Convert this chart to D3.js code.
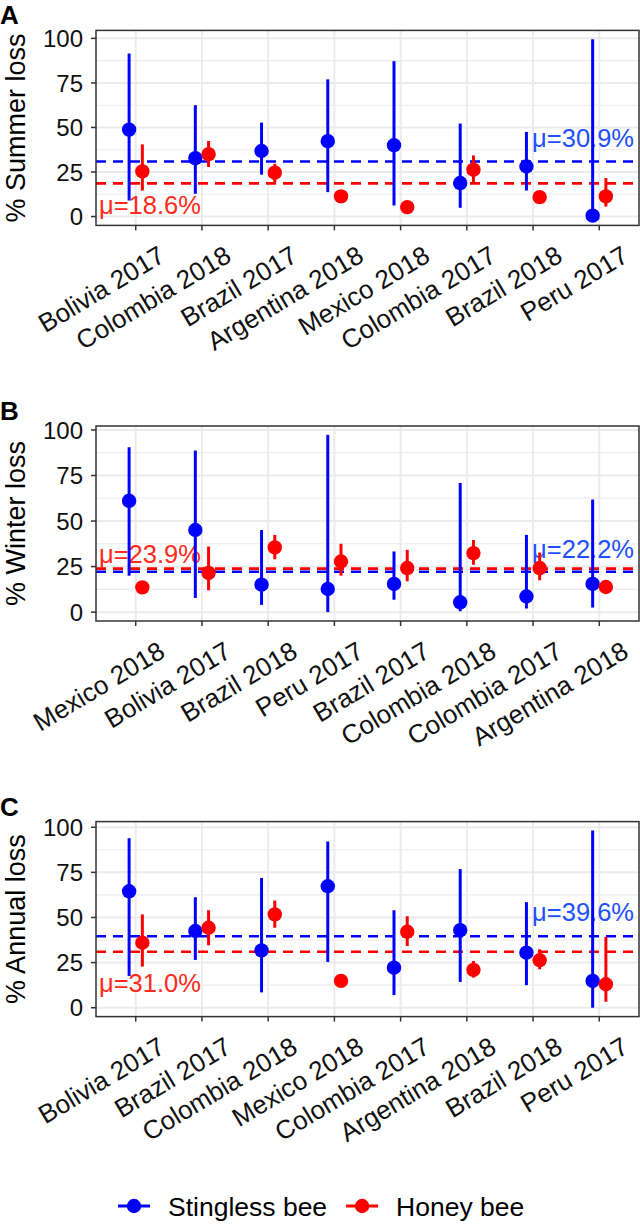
<!DOCTYPE html>
<html>
<head>
<meta charset="utf-8">
<script src="https://cdn.jsdelivr.net/npm/d3@7"></script>
<style>
  body { margin: 0; background: #fff; }
  text { font-family: "Liberation Sans", Arial, sans-serif; }
</style>
</head>
<body>
<svg id="chart"></svg>
<script>
// ---- data ----
var categoriesSummer = ['Bolivia 2017', 'Colombia 2018', 'Brazil 2017', 'Argentina 2018', 'Mexico 2018', 'Colombia 2017', 'Brazil 2018', 'Peru 2017'];
var stinglessSummer     = [48.8, 32.8, 36.8, 42.3, 40.0, 18.8, 28.1, 0.5];
var stinglessSummerLow  = [9.0, 12.8, 23.5, 13.7, 6.2, 4.9, 14.6, 0.0];
var stinglessSummerHigh = [91.5, 62.5, 52.7, 77.0, 87.2, 52.2, 47.5, 99.5];
var honeySummer     = [25.3, 35.0, 24.6, 11.3, 5.3, 26.3, 10.9, 11.3];
var honeySummerLow  = [14.6, 27.8, 19.3, 11.3, 5.3, 19.3, 10.9, 5.6];
var honeySummerHigh = [40.5, 42.4, 29.6, 11.3, 5.3, 34.3, 10.9, 21.6];
var meanSummer = [30.9, 18.6]; // stingless, honey

var categoriesWinter = ['Mexico 2018', 'Bolivia 2017', 'Brazil 2018', 'Peru 2017', 'Brazil 2017', 'Colombia 2018', 'Colombia 2017', 'Argentina 2018'];
var stinglessWinter     = [61.1, 45.1, 15.1, 12.7, 15.5, 5.4, 8.6, 15.5];
var stinglessWinterLow  = [20.0, 7.8, 4.0, 0.0, 6.8, 0.5, 2.0, 2.5];
var stinglessWinterHigh = [90.5, 88.7, 45.1, 97.3, 33.3, 70.9, 42.4, 61.8];
var honeyWinter     = [13.6, 21.5, 35.5, 27.8, 24.2, 32.4, 24.2, 13.8];
var honeyWinterLow  = [13.6, 12.0, 29.0, 20.0, 16.9, 26.0, 17.5, 13.8];
var honeyWinterHigh = [13.6, 36.0, 42.4, 37.5, 34.2, 39.6, 32.7, 13.8];
var meanWinter = [22.2, 23.9];

var categoriesAnnual = ['Bolivia 2017', 'Brazil 2017', 'Colombia 2018', 'Mexico 2018', 'Colombia 2017', 'Argentina 2018', 'Brazil 2018', 'Peru 2017'];
var stinglessAnnual     = [64.5, 42.5, 31.8, 67.3, 22.2, 43.0, 30.5, 14.9];
var stinglessAnnualLow  = [17.6, 26.5, 8.5, 25.4, 7.0, 14.3, 12.5, 0.0];
var stinglessAnnualHigh = [93.9, 61.2, 71.9, 92.1, 54.0, 76.8, 58.5, 98.2];
var honeyAnnual     = [36.0, 44.3, 51.7, 14.9, 42.1, 21.0, 26.3, 13.0];
var honeyAnnualLow  = [22.8, 34.6, 44.3, 14.9, 34.2, 16.7, 21.3, 3.3];
var honeyAnnualHigh = [51.7, 54.0, 59.4, 14.9, 50.7, 25.9, 32.4, 39.3];
var meanAnnual = [39.6, 31.0];

var yTicks = [0, 25, 50, 75, 100];
var seriesNames = ['Stingless bee', 'Honey bee'];
var seriesColors = ['#0000ff', '#ff0000'];
var labelColors = ['#1f4fff', '#ff2a1a'];

// ---- layout ----
var width = 640, height = 1225;
var left = 96, right = 639;
var panelH = 195, panelStep = 395.6, firstTop = 30.4;

var panels = [
  { tag: 'A', title: '% Summer loss', cats: categoriesSummer,
    s: stinglessSummer, sLo: stinglessSummerLow, sHi: stinglessSummerHigh,
    h: honeySummer, hLo: honeySummerLow, hHi: honeySummerHigh,
    means: meanSummer, labelAt: [39, 1.7] },
  { tag: 'B', title: '% Winter loss', cats: categoriesWinter,
    s: stinglessWinter, sLo: stinglessWinterLow, sHi: stinglessWinterHigh,
    h: honeyWinter, hLo: honeyWinterLow, hHi: honeyWinterHigh,
    means: meanWinter, labelAt: [29.6, 27] },
  { tag: 'C', title: '% Annual loss', cats: categoriesAnnual,
    s: stinglessAnnual, sLo: stinglessAnnualLow, sHi: stinglessAnnualHigh,
    h: honeyAnnual, hLo: honeyAnnualLow, hHi: honeyAnnualHigh,
    means: meanAnnual, labelAt: [48, 8.8] }
];

var svg = d3.select('#chart')
  .attr('width', width)
  .attr('height', height);

panels.forEach(function(p, i) {
  var top = firstTop + panelStep * i;
  var bottom = top + panelH;
  var g = svg.append('g');

  // y domain: range of all values, expanded by 5%
  var all = p.sLo.concat(p.sHi, p.hLo, p.hHi, p.means);
  var lo = d3.min(all), hi = d3.max(all), pad = (hi - lo) * 0.05;
  var yScale = d3.scaleLinear().domain([lo - pad, hi + pad]).range([bottom, top]);

  var xScale = d3.scalePoint().domain(p.cats).range([left, right]).padding(0.6);
  var dodge = xScale.step() * 0.1;

  // grid
  var minor = d3.range(-12.5, 110, 25).filter(function(v) { return yScale(v) > top && yScale(v) < bottom; });
  g.selectAll('.minor').data(minor).enter().append('line')
    .attr('x1', left).attr('x2', right)
    .attr('y1', d => yScale(d)).attr('y2', d => yScale(d))
    .attr('stroke', '#ebebeb').attr('stroke-width', 1.1);
  g.selectAll('.major').data(yTicks).enter().append('line')
    .attr('x1', left).attr('x2', right)
    .attr('y1', d => yScale(d)).attr('y2', d => yScale(d))
    .attr('stroke', '#ebebeb').attr('stroke-width', 2);
  g.selectAll('.vgrid').data(p.cats).enter().append('line')
    .attr('x1', d => xScale(d)).attr('x2', d => xScale(d))
    .attr('y1', top).attr('y2', bottom)
    .attr('stroke', '#ebebeb').attr('stroke-width', 2);

  // mean lines
  g.selectAll('.mean').data(p.means).enter().append('line')
    .attr('x1', left).attr('x2', right)
    .attr('y1', d => yScale(d)).attr('y2', d => yScale(d))
    .attr('stroke', (d, k) => seriesColors[k])
    .attr('stroke-width', 2.6)
    .attr('stroke-dasharray', '10,7');

  // mean labels
  p.means.forEach(function(m, k) {
    g.append('text')
      .attr('x', k === 0 ? right - 5 : left + 3)
      .attr('y', yScale(p.labelAt[k]))
      .attr('font-size', 25.5)
      .attr('fill', labelColors[k])
      .attr('text-anchor', k === 0 ? 'end' : 'start')
      .text('\u03bc=' + m.toFixed(1) + '%');
  });

  // error bars and points
  var series = [
    { v: p.s, lo: p.sLo, hi: p.sHi, off: -dodge, color: seriesColors[0] },
    { v: p.h, lo: p.hLo, hi: p.hHi, off: dodge, color: seriesColors[1] }
  ];
  series.forEach(function(s) {
    var rows = p.cats.map(function(c, j) { return { cat: c, v: s.v[j], lo: s.lo[j], hi: s.hi[j] }; });
    g.selectAll(null).data(rows).enter().append('line')
      .attr('x1', d => xScale(d.cat) + s.off).attr('x2', d => xScale(d.cat) + s.off)
      .attr('y1', d => yScale(d.lo)).attr('y2', d => yScale(d.hi))
      .attr('stroke', s.color).attr('stroke-width', 3);
    g.selectAll(null).data(rows).enter().append('circle')
      .attr('cx', d => xScale(d.cat) + s.off)
      .attr('cy', d => yScale(d.v))
      .attr('r', 7.2)
      .attr('fill', s.color);
  });

  // panel border
  g.append('rect')
    .attr('x', left).attr('y', top)
    .attr('width', right - left).attr('height', bottom - top)
    .attr('fill', 'none').attr('stroke', '#333').attr('stroke-width', 1.5);

  // y axis ticks and labels
  g.selectAll('.ytick').data(yTicks).enter().append('line')
    .attr('x1', left - 5).attr('x2', left)
    .attr('y1', d => yScale(d)).attr('y2', d => yScale(d))
    .attr('stroke', '#333').attr('stroke-width', 1.5);
  g.selectAll('.ylab').data(yTicks).enter().append('text')
    .attr('x', 83)
    .attr('y', d => yScale(d) + 8.6)
    .attr('font-size', 24)
    .attr('fill', '#111')
    .attr('text-anchor', 'end')
    .text(d => d);

  // x axis ticks and labels
  g.selectAll('.xtick').data(p.cats).enter().append('line')
    .attr('x1', d => xScale(d)).attr('x2', d => xScale(d))
    .attr('y1', bottom).attr('y2', bottom + 5)
    .attr('stroke', '#333').attr('stroke-width', 1.5);
  g.selectAll('.xlab').data(p.cats).enter().append('text')
    .attr('font-size', 26)
    .attr('fill', '#111')
    .attr('text-anchor', 'end')
    .attr('transform', d => 'translate(' + (xScale(d) + 31) + ',' + (bottom + 35) + ') rotate(-31)')
    .text(d => d);

  // y axis title
  g.append('text')
    .attr('font-size', 27)
    .attr('fill', '#000')
    .attr('text-anchor', 'middle')
    .attr('transform', 'translate(25,' + ((top + bottom) / 2) + ') rotate(-90)')
    .text(p.title);

  // panel tag
  g.append('text')
    .attr('x', 0)
    .attr('y', top - 6)
    .attr('font-size', 26)
    .attr('font-weight', 'bold')
    .text(p.tag);
});

// legend
var legend = svg.append('g');
var lx = 118, ly = 1206;
seriesNames.forEach(function(name, k) {
  legend.append('line')
    .attr('x1', lx).attr('x2', lx + 32)
    .attr('y1', ly).attr('y2', ly)
    .attr('stroke', seriesColors[k]).attr('stroke-width', 3);
  legend.append('circle')
    .attr('cx', lx + 16).attr('cy', ly).attr('r', 7.2)
    .attr('fill', seriesColors[k]);
  var t = legend.append('text')
    .attr('x', lx + 50)
    .attr('y', ly + 9.5)
    .attr('font-size', 26.5)
    .attr('fill', '#000')
    .text(name);
  lx += 50 + t.node().getComputedTextLength() + 19;
});
</script>
</body>
</html>
